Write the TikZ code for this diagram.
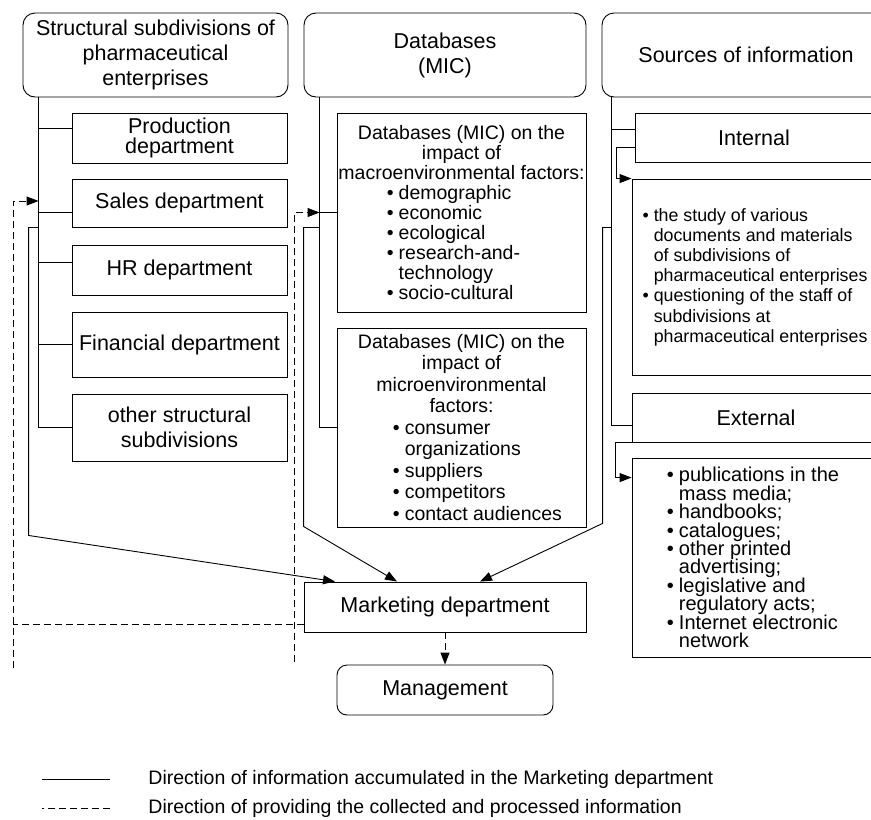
\documentclass[tikz,border=0pt]{standalone}
\usepackage{fontspec}
\setmainfont{Liberation Sans}
\usepackage{tikz}
\usetikzlibrary{arrows.meta}
\usetikzlibrary{positioning}

\newcommand{\blist}[1]{\vtop{\lineskiplimit=-\maxdimen\halign{##\hfil\hskip5pt&##\hfil\cr#1\crcr}}}

\tikzset{
  head/.style={draw, rounded corners=12pt, inner sep=0pt, minimum width=#1, minimum height=84pt, align=center, font=\fontsize{21.5}{25}\selectfont},
  dept/.style 2 args={draw, inner sep=0pt, minimum width=#1, minimum height=#2, align=center, font=\fontsize{21.5}{25}\selectfont},
  listbox/.style 2 args={draw, inner sep=0pt, minimum width=#1, minimum height=#2, align=center, font=\fontsize{19.5}{20}\selectfont},
  arr/.style={-{Triangle[length=12pt,width=9pt]}},
  fb/.style={dash pattern=on 7pt off 4pt},
  legend/.style={anchor=west, inner sep=0pt, font=\fontsize{19.5}{22}\selectfont}
}

\begin{document}
\begin{tikzpicture}[x=1pt,y=-1pt,line width=0.9pt]
\useasboundingbox (0,0) rectangle (871,820);
\clip (0,0) rectangle (871,820);

\node[head=265pt] (hdrA) at (155.5,55) {Structural subdivisions of\\pharmaceutical\\enterprises};
\node[head=282pt] (hdrB) at (445,55) {Databases\\(MIC)};
\node[head=288pt] (hdrC) at (746,55) {Sources of information};

\node[dept={215pt}{50pt}] (prod) at (179.5,138) {Production\\[-5pt]department};
\node[dept={215pt}{48pt}] (sales) at (179.5,203) {Sales department};
\node[dept={215pt}{50pt}] (hr) at (179.5,270) {HR department};
\node[dept={215pt}{65pt}] (fin) at (179.5,344.5) {Financial department};
\node[dept={215pt}{67pt}] (other) at (179.5,427.5) {other structural\\subdivisions};

\node[listbox={249pt}{199pt}] (macro) at (461.5,212.5) {Databases (MIC) on the\\impact of\\macroenvironmental factors:\\\hspace*{-16pt}\blist{\textbullet & demographic\cr \textbullet & economic\cr \textbullet & ecological\cr \textbullet & research-and-\cr & technology\cr \textbullet & socio-cultural}};
\node[listbox={249pt}{199pt}, font=\fontsize{19.5}{21.5}\selectfont] (micro) at (461.5,427.5) {Databases (MIC) on the\\impact of\\microenvironmental\\factors:\\\hspace*{32pt}\blist{\textbullet & consumer\cr & organizations\cr \textbullet & suppliers\cr \textbullet & competitors\cr \textbullet & contact audiences}};

\node[dept={238pt}{49pt}] (intl) at (754,137.5) {Internal};
\node[listbox={246pt}{196pt}, font=\fontsize{17.8}{20.2}\selectfont] (intlD) at (755,277) {\blist{\textbullet & the study of various\cr & documents and materials\cr & of subdivisions of\cr & pharmaceutical enterprises\cr \textbullet & questioning of the staff of\cr & subdivisions at\cr & pharmaceutical enterprises}};
\node[dept={248pt}{49pt}] (ext) at (756,417.5) {External};
\node[listbox={242pt}{199pt}, font=\fontsize{20}{18.4}\selectfont] (extD) at (753,557.5) {\blist{\textbullet & publications in the\cr & mass media;\cr \textbullet & handbooks;\cr \textbullet & catalogues;\cr \textbullet & other printed\cr & advertising;\cr \textbullet & legislative and\cr & regulatory acts;\cr \textbullet & Internet electronic\cr & network}};

\node[dept={282pt}{50pt}] (mkt) at (445,607) {Marketing department};
\node[dept={216pt}{50pt}, rounded corners=10pt] (mgmt) at (445,690) {Management};

\coordinate (busA) at ([xshift=16pt]hdrA.south west);
\coordinate (busB) at ([xshift=16pt]hdrB.south west);
\coordinate (busC) at ([xshift=10pt]hdrC.south west);
\coordinate (fbA) at (13,668);
\coordinate (fbB) at (294,662);

\draw (busA) |- (other.west);
\draw ([yshift=10pt]prod.west) -- ++(-33,0);
\draw ([yshift=-9pt]sales.west) -- ++(-33,0);
\draw ([yshift=8pt]hr.west) -- ++(-33,0);
\draw (fin.west) -- ++(-33,0);

\draw (busB) |- (micro.west);
\draw (macro.west) -- ++(-17,0);

\draw (busC) |- ([yshift=-7.5pt]ext.west);
\draw ([yshift=8.5pt]intl.west) -- ++(-23,0);
\draw[arr] ([yshift=-9.5pt]intl.west) -- ++(-18,0) |- (intlD.north west);
\draw[arr] (ext.south west) -- ++(-16,0) |- ([yshift=-20pt]extD.north west);

\draw[arr] (busA |- sales.south) -- ++(-10,0) -- ++(0,308) -- ([xshift=-110pt]mkt.north);
\draw[arr] (busB |- sales.south) -- ++(-16,0) -- ++(0,299) -- ([xshift=-48pt]mkt.north);
\draw[arr] (busC |- sales.south) -- ++(-9,0) -- ++(0,296) -- ([xshift=35pt]mkt.north);

\draw[fb,arr] (fbA) |- ([yshift=2pt]busA |- sales.west);
\draw[fb,arr] (fbB) |- (busB |- macro.west);
\draw[fb] ([yshift=-17pt]mkt.west) -- ++(-291,0);
\draw[fb,arr] (mkt.south) -- (mgmt.north);

\node[legend] (lg1) at (148,779) {Direction of information accumulated in the Marketing department};
\node[legend] (lg2) at (148,808) {Direction of providing the collected and processed information};
\draw ([xshift=-38pt]lg1.west) -- ++(-68,0);
\draw[fb] ([xshift=-38pt]lg2.west) -- ++(-68,0);
\end{tikzpicture}
\end{document}
